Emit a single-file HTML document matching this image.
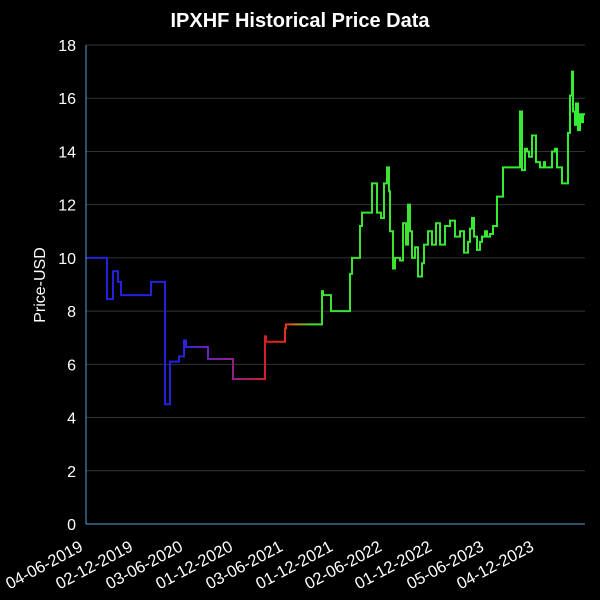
<!DOCTYPE html>
<html><head><meta charset="utf-8"><style>
html,body{margin:0;padding:0;background:#000;}
svg{display:block;font-family:"Liberation Sans",sans-serif;}
</style></head><body>
<svg id="chart" width="600" height="600" viewBox="0 0 600 600">
<rect width="600" height="600" fill="#000"/>
<defs>
<linearGradient id="lg" gradientUnits="userSpaceOnUse" x1="86" y1="0" x2="585" y2="0">
<stop offset="0" stop-color="#2222dd"/>
<stop offset="0.19" stop-color="#2222dd"/>
<stop offset="0.24" stop-color="#6a1fc0"/>
<stop offset="0.32" stop-color="#a0206a"/>
<stop offset="0.37" stop-color="#e02020"/>
<stop offset="0.40" stop-color="#e03020"/>
<stop offset="0.42" stop-color="#c08020"/>
<stop offset="0.45" stop-color="#40e030"/>
<stop offset="1" stop-color="#33ee33"/>
</linearGradient>
</defs>
<text x="300" y="27" fill="#fff" font-size="20" font-weight="bold" text-anchor="middle">IPXHF Historical Price Data</text>
<text transform="translate(45,285) rotate(-90)" fill="#fff" font-size="16" text-anchor="middle">Price-USD</text>
<g id="grid"></g>
<g id="yticks"></g>
<g id="xticks"></g>
<path id="line" fill="none" stroke="url(#lg)" stroke-width="2"/>
<line x1="86" y1="45" x2="86" y2="524" stroke="#5aa0d0" stroke-width="1"/>
<line x1="86" y1="524" x2="585" y2="524" stroke="#5aa0d0" stroke-width="1"/>
</svg>
<script>
const dayIdx=[0,21,27,32,35,65,79,83,84,93,98,99,100,122,147,179,180,184,199,200,217,236,237,245,248,264,266,270,274,276,279,283,286,287,291,295,298,301,303,304,307,309,311,314,317,320,322,324,326,329,332,333,336,338,342,346,350,354,359,364,369,374,378,382,384,386,388,391,394,396,399,401,404,407,410,411,417,431,434,436,439,441,443,446,450,454,458,459,466,467,469,471,476,482,483,484,486,487,489,490,492,494,496,497];
const price=[10.0,8.45,9.5,9.1,8.6,9.1,4.5,4.5,6.1,6.3,6.9,6.9,6.65,6.2,5.45,7.05,6.85,6.85,7.35,7.5,7.5,8.75,8.6,8.0,8.0,9.4,10.0,10.0,11.2,11.7,11.7,11.7,12.8,12.8,11.7,11.5,12.8,13.4,12.5,11.0,9.6,10.0,10.0,9.9,11.3,10.5,12.0,11.0,10.0,10.4,9.3,9.3,9.8,10.5,11.0,10.5,11.3,10.5,11.2,11.4,10.8,11.0,10.2,10.6,11.1,11.5,10.8,10.3,10.6,10.8,11.0,10.8,10.9,11.2,11.2,12.3,13.4,13.4,15.5,13.3,14.1,14.0,13.8,14.6,13.6,13.4,13.6,13.4,14.0,14.0,14.1,13.4,12.8,14.7,14.7,16.1,17.0,15.5,15.0,15.8,14.8,15.4,15.1,15.4];
const yTicks=[0,2,4,6,8,10,12,14,16,18];
const xTickIdx=[1,51,101,151,201,251,300,350,402,452];
const xTickLabels=["04-06-2019","02-12-2019","03-06-2020","01-12-2020","03-06-2021","01-12-2021","02-06-2022","01-12-2022","05-06-2023","04-12-2023"];
const NS="http://www.w3.org/2000/svg";
const X0=86,X1=585,Y0=524,Y1=45;
function xs(i){return X0+i*(X1-X0)/499;}
function ys(v){return Y0-v*(Y0-Y1)/18;}
const grid=document.getElementById('grid'),yt=document.getElementById('yticks'),xt=document.getElementById('xticks');
yTicks.forEach(v=>{
  const l=document.createElementNS(NS,'line');
  l.setAttribute('x1',X0);l.setAttribute('x2',X1);l.setAttribute('y1',ys(v));l.setAttribute('y2',ys(v));
  l.setAttribute('stroke','#333');l.setAttribute('stroke-width','1');
  
  
  grid.appendChild(l);
  const t=document.createElementNS(NS,'text');
  t.setAttribute('x',76);t.setAttribute('y',ys(v)+6);t.setAttribute('fill','#fff');t.setAttribute('font-size','16');t.setAttribute('text-anchor','end');
  t.textContent=v;
  
  
  yt.appendChild(t);
});
xTickIdx.forEach((i,k)=>{
  const x=xs(i);
  const t=document.createElementNS(NS,'text');
  t.setAttribute('transform','translate('+(x-3)+',550) rotate(-28)');
  t.setAttribute('fill','#fff');t.setAttribute('font-size','16.5');t.setAttribute('text-anchor','end');
  t.textContent=xTickLabels[k];
  
  
  xt.appendChild(t);
});
let d='';
for(let k=0;k<dayIdx.length;k++){
  const x=xs(dayIdx[k]),y=ys(price[k]);
  if(k===0)d+='M'+x+','+y;
  else d+='H'+x+'V'+y;
}
d+='H'+xs(499);
document.getElementById('line').setAttribute('d',d);
</script>
</body></html>
